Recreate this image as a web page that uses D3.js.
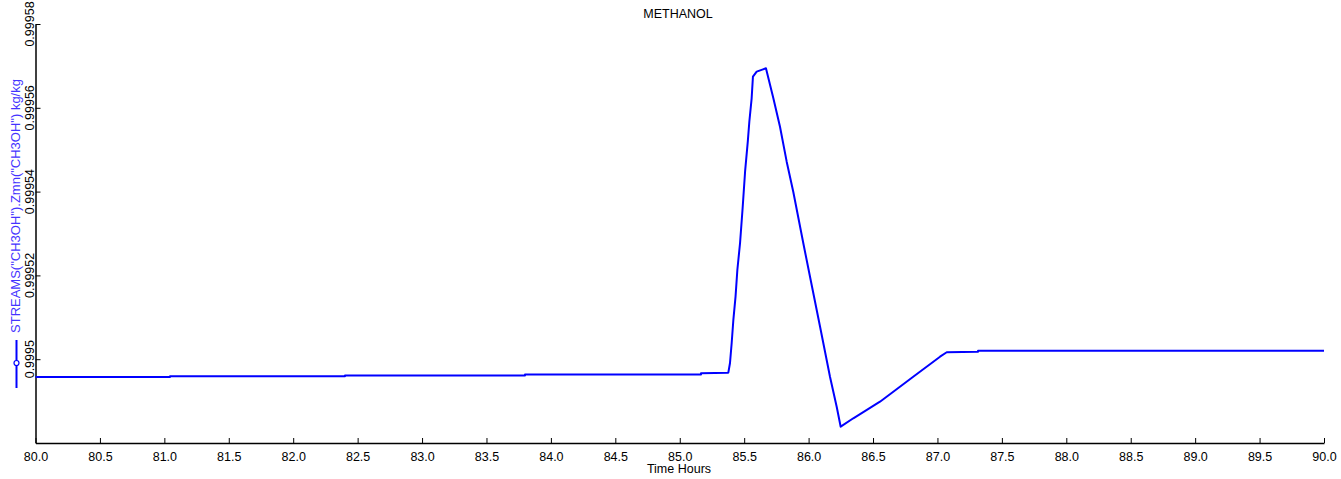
<!DOCTYPE html>
<html>
<head>
<meta charset="utf-8">
<script src="https://cdn.jsdelivr.net/npm/d3@7/dist/d3.min.js"></script>
<style>
  html, body { margin: 0; padding: 0; background: #fff; }
  svg { display: block; }
  text { font-family: "Liberation Sans", Arial, sans-serif; }
</style>
</head>
<body>
<svg id="chart" width="1341" height="479"></svg>
<script>
// ---- data ----
const chartTitle = "METHANOL";
const xLabel = "Time Hours";
const yLabel = 'STREAMS("CH3OH").Zmn("CH3OH") kg/kg';
const timeHours = [
  80.0, 81.044, 81.044, 82.402, 82.402, 83.799, 83.799, 85.165, 85.165, 85.377,
  85.390, 85.403, 85.416, 85.433, 85.447, 85.468, 85.488, 85.507, 85.528, 85.540,
  85.558, 85.568, 85.597, 85.669,
  85.726, 85.778, 85.830, 85.881, 85.959, 86.011, 86.089, 86.166, 86.218, 86.249,
  86.347, 86.554, 86.812, 87.020, 87.072, 87.315, 87.315, 90.0
];
const methanolFrac = [
  0.99949575, 0.99949575, 0.99949592, 0.99949592, 0.99949611, 0.99949611, 0.99949635, 0.99949635, 0.99949663, 0.99949678,
  0.99949909, 0.99950387, 0.99950936, 0.99951492, 0.99952129, 0.99952773, 0.99953609, 0.99954475, 0.99955191, 0.99955668,
  0.99956227, 0.99956742, 0.99956862, 0.99956943,
  0.99956234, 0.99955549, 0.99954714, 0.99953998, 0.99952766, 0.99951969, 0.99950776, 0.99949582, 0.99948866, 0.99948389,
  0.99948590, 0.99948986, 0.99949582, 0.99950060, 0.99950165, 0.99950177, 0.99950203, 0.99950203
];
const xTicks = [80.0, 80.5, 81.0, 81.5, 82.0, 82.5, 83.0, 83.5, 84.0, 84.5, 85.0, 85.5, 86.0, 86.5, 87.0, 87.5, 88.0, 88.5, 89.0, 89.5, 90.0];
const yTicks = [0.9995, 0.99952, 0.99954, 0.99956, 0.99958];
const yTickLabels = ["0.9995", "0.99952", "0.99954", "0.99956", "0.99958"];

// ---- chart ----
(function () {
const svg = d3.select("#chart");
const pLeft = 35.5, pRight = 1324, pTop = 24, pBottom = 443;
const x = d3.scaleLinear().domain([80, 90]).range([pLeft, pRight]);
const y = d3.scaleLinear().domain([0.99948, 0.99958]).range([pBottom, pTop]);

const lineColor = "#0000ff";
const labelColor = "#4433ff";
const fs = 12.5;

// title
svg.append("text").attr("x", 678).attr("y", 18).attr("text-anchor", "middle")
  .attr("font-size", fs).attr("fill", "#000").text(chartTitle);

// x axis
const xAxis = d3.axisBottom(x).tickValues(xTicks).tickFormat(d3.format(".1f"))
  .tickSizeInner(-5).tickSizeOuter(0).tickPadding(9);
const gx = svg.append("g").attr("transform", `translate(0,${pBottom})`).call(xAxis);
gx.selectAll("text").attr("font-size", fs).attr("fill", "#000")
  .style("font-family", '"Liberation Sans", Arial, sans-serif');
gx.selectAll("line").attr("stroke", "#000");
gx.select(".domain").attr("stroke", "#000").attr("stroke-width", 1.5);

svg.append("text").attr("x", 679).attr("y", 473).attr("text-anchor", "middle")
  .attr("font-size", fs).attr("fill", "#000").text(xLabel);

// y axis
const yAxis = d3.axisLeft(y).tickValues(yTicks).tickFormat("")
  .tickSizeInner(-5).tickSizeOuter(0);
const gy = svg.append("g").attr("transform", `translate(${pLeft},0)`).call(yAxis);
gy.selectAll("line").attr("stroke", "#000");
gy.select(".domain").attr("stroke", "#000").attr("stroke-width", 1.5);

svg.append("g").selectAll("text").data(yTicks).join("text")
  .attr("transform", (d) => `translate(33.5,${y(d)}) rotate(-90)`)
  .attr("text-anchor", "middle").attr("font-size", fs).attr("fill", "#000")
  .text((d, i) => yTickLabels[i]);

// y label
svg.append("text").attr("transform", `translate(20,206) rotate(-90)`)
  .attr("text-anchor", "middle").attr("font-size", 13).attr("fill", labelColor)
  .text(yLabel);

// legend marker
svg.append("line").attr("x1", 16.5).attr("x2", 16.5).attr("y1", 340).attr("y2", 388)
  .attr("stroke", lineColor).attr("stroke-width", 2);
svg.append("circle").attr("cx", 16.5).attr("cy", 363).attr("r", 2.5)
  .attr("fill", "#fff").attr("stroke", lineColor).attr("stroke-width", 1.2);

// line
const pts = timeHours.map((t, i) => [t, methanolFrac[i]]);
const line = d3.line().x(d => x(d[0])).y(d => y(d[1]));
svg.append("path").datum(pts).attr("d", line)
  .attr("fill", "none").attr("stroke", lineColor).attr("stroke-width", 2)
  .attr("stroke-linejoin", "round");
})();
</script>
</body>
</html>
